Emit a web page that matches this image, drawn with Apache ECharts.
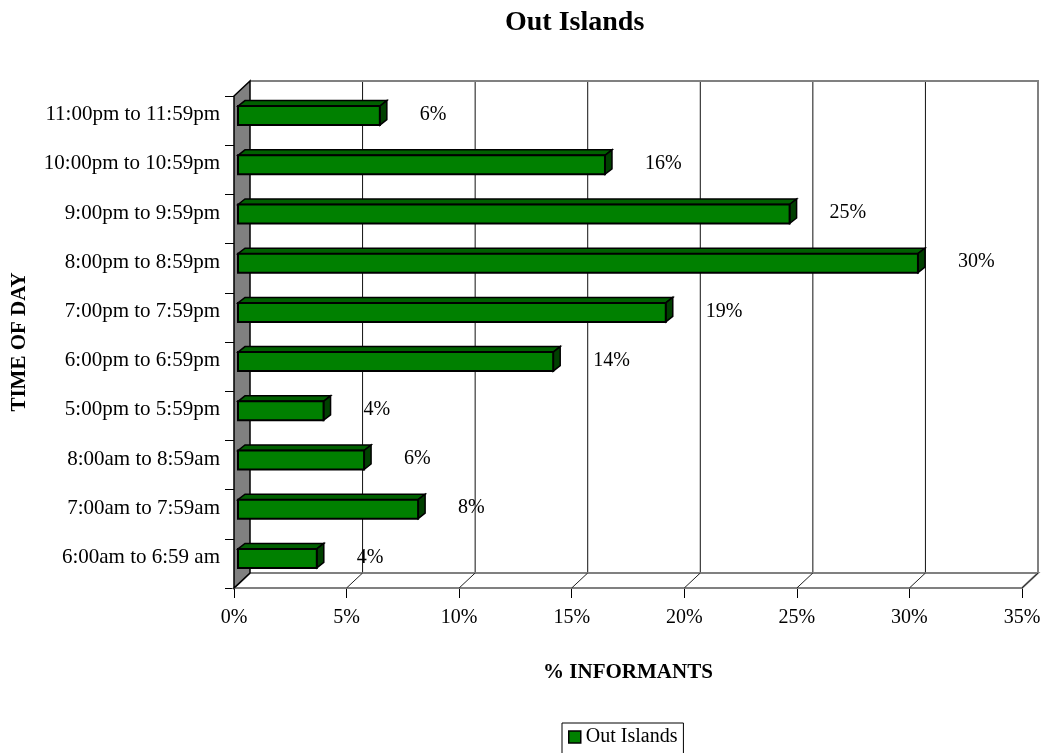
<!DOCTYPE html>
<html><head><meta charset="utf-8">
<script src="https://cdn.jsdelivr.net/npm/echarts@6/dist/echarts.min.js"></script>
<style>html,body{margin:0;padding:0;background:#fff}#c{width:1042px;height:753px}</style>
</head><body><div id="c"></div>
<script>
const categories = ['6:00am to 6:59 am','7:00am to 7:59am','8:00am to 8:59am','5:00pm to 5:59pm','6:00pm to 6:59pm','7:00pm to 7:59pm','8:00pm to 8:59pm','9:00pm to 9:59pm','10:00pm to 10:59pm','11:00pm to 11:59pm'];
const values = [3.5, 8.0, 5.6, 3.8, 14.0, 19.0, 30.2, 24.5, 16.3, 6.3];
const xTicks = [0, 5, 10, 15, 20, 25, 30, 35];
const seriesName = 'Out Islands';
const chartTitle = 'Out Islands';
const xName = '% INFORMANTS';
const yName = 'TIME OF DAY';

const FONT = '"Liberation Serif", "Times New Roman", serif';
const DX = 16, DY = -15;

function frameItem(params, api) {
  const cs = params.coordSys;
  const x0 = cs.x, y0 = cs.y, w = cs.width, h = cs.height;
  const ch = [];
  xTicks.forEach(v => {
    if (v === xTicks[0] || v === xTicks[xTicks.length - 1]) return;
    const x = api.coord([v, 0])[0] + DX;
    ch.push({type: 'line', shape: {x1: x, y1: y0 + DY, x2: x, y2: y0 + h + DY}, style: {stroke: '#111', lineWidth: 1}});
  });
  ch.push({type: 'polyline', shape: {points: [[x0 + DX, y0 + DY], [x0 + w + DX, y0 + DY], [x0 + w + DX, y0 + h + DY]]}, style: {stroke: '#808080', lineWidth: 2, fill: null}});
  ch.push({type: 'polygon', shape: {points: [[x0, y0 + h], [x0 + DX, y0 + h + DY], [x0 + w + DX, y0 + h + DY], [x0 + w, y0 + h]]}, style: {fill: '#fff', stroke: '#808080', lineWidth: 2}});
  xTicks.forEach(v => {
    const x = api.coord([v, 0])[0];
    ch.push({type: 'line', shape: {x1: x, y1: y0 + h, x2: x + DX, y2: y0 + h + DY}, style: {stroke: '#222', lineWidth: 1}});
  });
  ch.push({type: 'polygon', shape: {points: [[x0, y0], [x0 + DX, y0 + DY], [x0 + DX, y0 + h + DY], [x0, y0 + h]]}, style: {fill: '#808080', stroke: '#000', lineWidth: 1.5}});
  return {type: 'group', children: ch};
}

function barItem(params, api) {
  const v = api.value(0), i = api.value(1);
  const p0 = api.coord([0, i]), p1 = api.coord([v, i]);
  const xa = p0[0] + 4, xb = p1[0] + 4;
  const top = p0[1] - 14.5, bh = 19, ddx = 7, ddy = -5.5;
  return {type: 'group', children: [
    {type: 'polygon', shape: {points: [[xa, top], [xa + ddx, top + ddy], [xb + ddx, top + ddy], [xb, top]]}, style: {fill: '#006000', stroke: '#000', lineWidth: 1.5}},
    {type: 'polygon', shape: {points: [[xb, top], [xb + ddx, top + ddy], [xb + ddx, top + bh + ddy], [xb, top + bh]]}, style: {fill: '#004000', stroke: '#000', lineWidth: 1.5}},
    {type: 'rect', shape: {x: xa, y: top, width: xb - xa, height: bh}, style: {fill: '#008000', stroke: '#000', lineWidth: 2}},
    {type: 'text', style: {text: Math.round(v) + '%', x: xb + 40, y: top + bh / 2 - 1, align: 'left', verticalAlign: 'middle', fill: '#000', font: '20px ' + FONT}}
  ]};
}

const chart = echarts.init(document.getElementById('c'), null, {renderer: 'canvas'});
chart.setOption({
  animation: false,
  backgroundColor: '#fff',
  textStyle: {fontFamily: FONT, color: '#000'},
  title: {text: chartTitle, left: 500, top: 4, textStyle: {fontFamily: FONT, fontSize: 28, fontWeight: 'bold', color: '#000'}},
  legend: {
    data: [{name: seriesName, icon: 'rect'}], left: 562, top: 723,
    borderColor: '#000', borderWidth: 1, padding: [4, 6, 8, 6],
    itemWidth: 12, itemHeight: 12, itemGap: 6,
    itemStyle: {color: '#008000', borderColor: '#000', borderWidth: 1.5},
    textStyle: {fontFamily: FONT, fontSize: 20, color: '#000'}
  },
  grid: {left: 234, top: 96, width: 788, height: 492, containLabel: false, outerBoundsMode: 'none'},
  xAxis: {
    type: 'value', min: 0, max: 35, interval: 5,
    axisLine: {show: false},
    axisTick: {show: true, length: 10, lineStyle: {color: '#000', width: 1}},
    axisLabel: {formatter: '{value}%', fontSize: 20, margin: 20, color: '#000', fontFamily: FONT},
    splitLine: {show: false},
    name: xName, nameLocation: 'middle', nameGap: 74,
    nameTextStyle: {fontFamily: FONT, fontSize: 21, fontWeight: 'bold', color: '#000'}
  },
  yAxis: {
    type: 'category', data: categories,
    axisLine: {show: false},
    axisTick: {show: true, length: 9, lineStyle: {color: '#000', width: 1}},
    axisLabel: {
      fontSize: 21, margin: 14, color: '#000', fontFamily: FONT,
      formatter: v => '{a|' + v + '}',
      rich: {a: {fontSize: 21, fontFamily: FONT, color: '#000', padding: [0, 0, 12, 0]}}
    },
    name: yName, nameLocation: 'middle', nameGap: 204,
    nameTextStyle: {fontFamily: FONT, fontSize: 21, fontWeight: 'bold', color: '#000'}
  },
  series: [
    {type: 'custom', name: '__frame', silent: true, z: 1, renderItem: frameItem, data: [[0, 0]], encode: {x: 0, y: 1}},
    {type: 'custom', name: seriesName, z: 3, renderItem: barItem,
     itemStyle: {color: '#008000', borderColor: '#000', borderWidth: 1.5},
     data: values.map((v, i) => [v, i]), encode: {x: 0, y: 1}}
  ]
});
</script></body></html>
